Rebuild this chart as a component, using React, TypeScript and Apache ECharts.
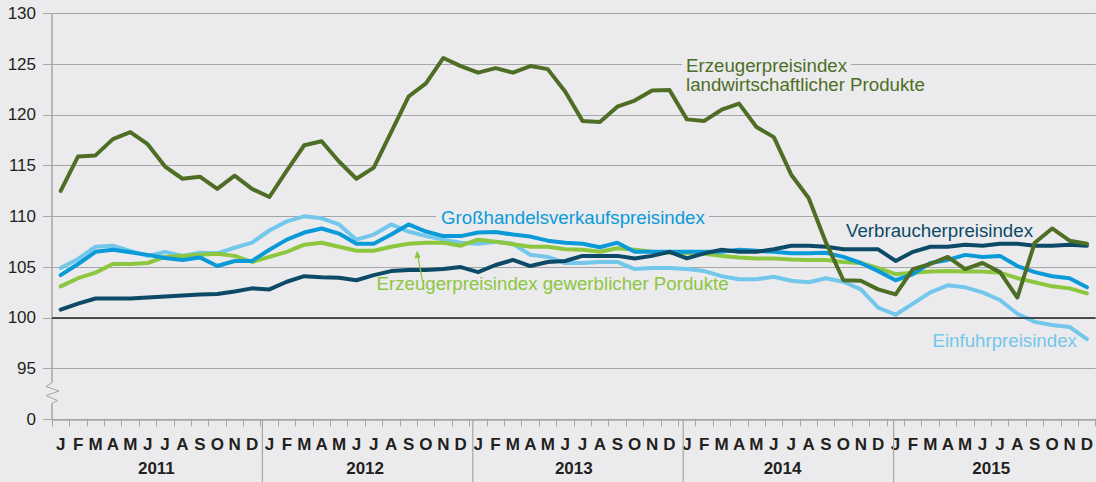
import React, { useEffect, useRef } from 'react';
import * as echarts from 'echarts';

const years = ['2011', '2012', '2013', '2014', '2015'];
const monthLetters = ['J', 'F', 'M', 'A', 'M', 'J', 'J', 'A', 'S', 'O', 'N', 'D'];
const categories = years.flatMap((y) => monthLetters.map((_, m) => `${y}-${String(m + 1).padStart(2, '0')}`));

const yMin = 90;
const yMax = 130;
const yStep = 5;
const yBreakLabel = '0';

const landwirtschaft = [
  112.5, 115.9, 116.0, 117.6, 118.3, 117.1, 114.9, 113.7, 113.9, 112.7, 114.0, 112.7,
  111.9, 114.5, 117.0, 117.4, 115.4, 113.7, 114.8, 118.3, 121.8, 123.1, 125.6, 124.8,
  124.15, 124.6, 124.15, 124.8, 124.5, 122.3, 119.4, 119.3, 120.8, 121.4, 122.4, 122.45,
  119.55, 119.4, 120.5, 121.1, 118.8, 117.8, 114.1, 111.8, 107.4, 103.7, 103.65, 102.8,
  102.3, 104.8, 105.3, 106.0, 104.8, 105.4, 104.5, 102.0, 107.4, 108.8, 107.6, 107.3,
];
const grosshandel = [
  104.2, 105.3, 106.5, 106.7, 106.45, 106.2, 105.9, 105.7, 105.95, 105.1, 105.6, 105.6,
  106.7, 107.7, 108.4, 108.8, 108.3, 107.3, 107.3, 108.2, 109.2, 108.5, 108.05, 108.05,
  108.4, 108.45, 108.2, 108.0, 107.6, 107.4, 107.3, 106.95, 107.4, 106.5, 106.5, 106.5,
  106.5, 106.5, 106.5, 106.7, 106.6, 106.5, 106.35, 106.35, 106.4, 106.0, 105.4, 104.6,
  103.7, 104.3, 105.4, 105.7, 106.2, 106.0, 106.1, 105.1, 104.5, 104.1, 103.9, 103.0,
];
const einfuhr = [
  104.9, 105.8, 107.0, 107.1, 106.6, 106.1, 106.5, 106.1, 106.4, 106.35, 106.9, 107.4,
  108.6, 109.5, 110.0, 109.8, 109.2, 107.7, 108.2, 109.2, 108.5, 108.05, 107.7, 107.4,
  107.3, 107.5, 107.3, 106.2, 106.0, 105.4, 105.4, 105.5, 105.5, 104.8, 104.9, 104.9,
  104.8, 104.6, 104.1, 103.8, 103.8, 104.05, 103.65, 103.5, 103.9, 103.55, 102.8, 101.0,
  100.3, 101.4, 102.5, 103.2, 103.0, 102.5, 101.75, 100.4, 99.6, 99.3, 99.1, 97.9,
];
const gewerblich = [
  103.1, 103.9, 104.45, 105.3, 105.3, 105.4, 106.0, 106.1, 106.2, 106.3, 106.1, 105.5,
  106.0, 106.5, 107.2, 107.4, 107.0, 106.6, 106.6, 107.0, 107.3, 107.4, 107.4, 107.1,
  107.7, 107.5, 107.25, 107.0, 107.0, 106.75, 106.7, 106.5, 106.85, 106.7, 106.5, 106.4,
  106.35, 106.3, 106.1, 105.95, 105.85, 105.85, 105.75, 105.7, 105.7, 105.5, 105.4, 104.9,
  104.3, 104.45, 104.55, 104.6, 104.55, 104.55, 104.45, 103.9, 103.5, 103.1, 102.9, 102.4,
];
const verbraucher = [
  100.8, 101.4, 101.9, 101.9, 101.9, 102.0, 102.1, 102.2, 102.3, 102.35, 102.6, 102.9,
  102.8, 103.55, 104.1, 104.0, 103.95, 103.7, 104.2, 104.6, 104.7, 104.7, 104.8, 105.0,
  104.5, 105.2, 105.7, 105.1, 105.5, 105.6, 106.1, 106.1, 106.1, 105.85, 106.1, 106.5,
  105.85, 106.35, 106.7, 106.5, 106.5, 106.75, 107.1, 107.1, 107.0, 106.75, 106.75, 106.75,
  105.6, 106.5, 107.0, 107.0, 107.2, 107.1, 107.3, 107.3, 107.1, 107.1, 107.2, 107.1,
];

const FONT = '"Liberation Sans", Arial, Helvetica, sans-serif';
const BG = '#ebebed';
const GRID_COLOR = '#a6a6a6';
const TEXT = '#231f20';
const C_LANDW = '#4e6e26';
const C_GEW = '#8dc63f';
const C_GROSS = '#0a9ad8';
const C_EINF = '#72c7ea';
const C_VERB = '#0d4a68';

const GRID = { left: 52, top: 13.3, width: 1052, height: 406 };

export default function App() {
  const ref = useRef<HTMLDivElement>(null);

  useEffect(() => {
    if (!ref.current) return;
    const chart = echarts.init(ref.current, undefined, { renderer: 'svg' });

    const line = (name: string, data: number[], color: string, z: number) => ({
      name,
      type: 'line',
      data,
      symbol: 'none',
      z,
      lineStyle: { color, width: 4, join: 'round', cap: 'round' },
      itemStyle: { color },
    });

    chart.setOption({
      animation: false,
      backgroundColor: BG,
      grid: { ...GRID },
      xAxis: [
        {
          type: 'category',
          data: categories,
          boundaryGap: true,
          axisLine: { show: true, lineStyle: { color: GRID_COLOR, width: 1.5 } },
          axisTick: { show: true, length: 7, interval: 0, lineStyle: { color: GRID_COLOR, width: 1 } },
          axisLabel: {
            interval: 0,
            margin: 17,
            color: TEXT,
            fontFamily: FONT,
            fontSize: 17,
            fontWeight: 'bold',
            formatter: (_v: string, i: number) => monthLetters[i % 12],
          },
          splitLine: { show: false },
        },
        {
          type: 'category',
          data: years,
          position: 'bottom',
          boundaryGap: true,
          axisLine: { show: false },
          axisTick: { show: false },
          axisLabel: {
            interval: 0,
            margin: 41,
            color: TEXT,
            fontFamily: FONT,
            fontSize: 17,
            fontWeight: 'bold',
          },
          splitLine: { show: false },
        },
      ],
      yAxis: {
        type: 'value',
        min: yMin,
        max: yMax,
        interval: yStep,
        axisLine: { show: false },
        axisTick: { show: true, length: 9, lineStyle: { color: GRID_COLOR, width: 1 } },
        axisLabel: {
          margin: 16,
          color: TEXT,
          fontFamily: FONT,
          fontSize: 17,
          formatter: (v: number) => (v === yMin ? yBreakLabel : String(v)),
        },
        splitLine: { show: true, lineStyle: { color: GRID_COLOR, width: 1 } },
      },
      series: [
        {
          ...line('Einfuhrpreisindex', einfuhr, C_EINF, 2),
          markLine: {
            silent: true,
            symbol: 'none',
            label: { show: false },
            lineStyle: { color: TEXT, width: 1.5, type: 'solid' },
            data: [{ yAxis: 100 }],
          },
        },
        line('Erzeugerpreisindex gewerblicher Produkte', gewerblich, C_GEW, 3),
        line('Großhandelsverkaufspreisindex', grosshandel, C_GROSS, 4),
        line('Verbraucherpreisindex', verbraucher, C_VERB, 5),
        line('Erzeugerpreisindex landwirtschaftlicher Produkte', landwirtschaft, C_LANDW, 6),
      ],
    });

    const px = (v: number) => chart.convertToPixel({ yAxisIndex: 0 }, v) as number;
    const yTop = px(yMax);
    const yBottom = px(yMin);
    const y95 = px(95);
    const axisX = GRID.left;
    const band = GRID.width / categories.length;
    const zzTop = y95 + 14;
    const zzBot = yBottom - 16;

    const text = (t: string, x: number, y: number, color: string) => ({
      type: 'text',
      x,
      y,
      z: 20,
      silent: true,
      style: { text: t, fill: color, fontFamily: FONT, fontSize: 18.7, verticalAlign: 'middle', align: 'left' },
    });
    const gap = (x: number, y: number, w: number) => ({
      type: 'rect',
      z: 1,
      silent: true,
      shape: { x, y: y - 4, width: w, height: 8 },
      style: { fill: BG },
    });

    const yearLines = years.slice(1).map((_, k) => {
      const x = GRID.left + (k + 1) * 12 * band;
      return {
        type: 'line',
        z: 1,
        silent: true,
        shape: { x1: x, y1: yBottom, x2: x, y2: 482 },
        style: { stroke: GRID_COLOR, lineWidth: 1.2 },
      };
    });

    chart.setOption({
      graphic: [
        { type: 'line', z: 3, silent: true, shape: { x1: axisX, y1: yTop, x2: axisX, y2: zzTop }, style: { stroke: GRID_COLOR, lineWidth: 1.5 } },
        { type: 'line', z: 3, silent: true, shape: { x1: axisX, y1: zzBot, x2: axisX, y2: yBottom }, style: { stroke: GRID_COLOR, lineWidth: 1.5 } },
        {
          type: 'polyline',
          z: 3,
          silent: true,
          shape: {
            points: [
              [axisX, zzTop],
              [axisX - 6, zzTop + 4],
              [axisX + 7, zzTop + 8.5],
              [axisX - 6, zzTop + 13],
              [axisX + 5.5, zzTop + 18],
              [axisX, zzBot],
            ],
          },
          style: { stroke: GRID_COLOR, lineWidth: 1, fill: 'none' },
        },
        ...yearLines,
        gap(682, px(125), 169),
        gap(436, px(110), 273),
        text('Erzeugerpreisindex', 686, 65, C_LANDW),
        text('landwirtschaftlicher Produkte', 686, 84.5, C_LANDW),
        text('Großhandelsverkaufspreisindex', 441, 217.5, C_GROSS),
        text('Verbraucherpreisindex', 846, 230, C_VERB),
        text('Erzeugerpreisindex gewerblicher Pordukte', 376.5, 283.5, C_GEW),
        text('Einfuhrpreisindex', 932.5, 340, C_EINF),
        {
          type: 'line',
          z: 20,
          silent: true,
          shape: { x1: 422.7, y1: 282, x2: 417.8, y2: 256 },
          style: { stroke: C_GEW, lineWidth: 1.3 },
        },
        {
          type: 'polygon',
          z: 20,
          silent: true,
          shape: { points: [[417.2, 250.5], [414.3, 258.5], [420.6, 257.4]] },
          style: { fill: C_GEW },
        },
      ],
    });

    return () => chart.dispose();
  }, []);

  return <div ref={ref} style={{ position: 'absolute', left: 0, top: 0, width: 1096, height: 482 }} />;
}
